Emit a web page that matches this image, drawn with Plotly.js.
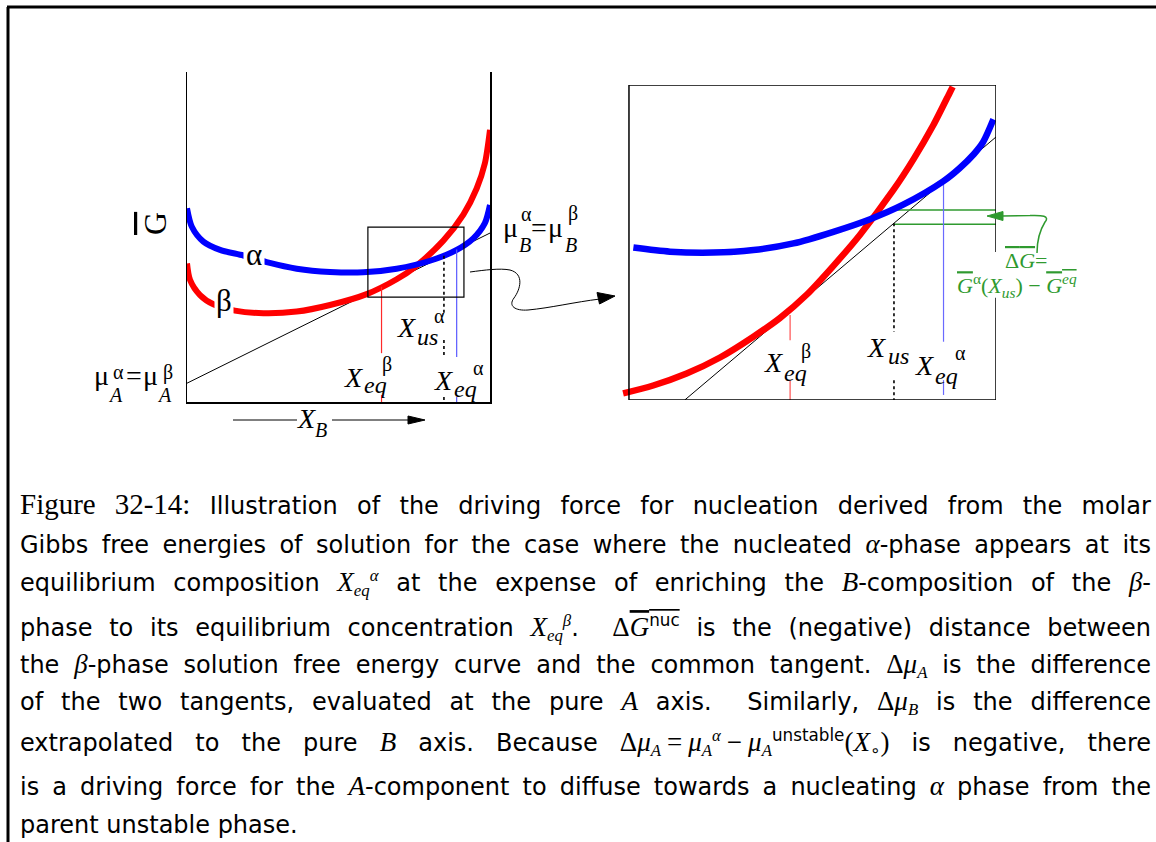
<!DOCTYPE html>
<html><head><meta charset="utf-8">
<script src="https://cdn.plot.ly/plotly-3.0.1.min.js"></script>
<style>html,body{margin:0;padding:0;background:#fff}</style>
</head><body><div id="chart" style="width:1156px;height:842px"></div>
<script>
// ---------- data (schematic free-energy curves) ----------
// left panel: X_B in [0,1], G in arbitrary units [0,1]
const leftAlphaX = [0.0,0.016,0.054,0.109,0.186,0.263,0.362,0.472,0.582,0.692,0.802,0.890,0.945,0.983,1.0];
const leftAlphaG = [0.587,0.531,0.486,0.461,0.444,0.424,0.404,0.394,0.393,0.404,0.428,0.461,0.496,0.542,0.597];
const leftBetaX  = [0.0,0.010,0.043,0.087,0.158,0.252,0.362,0.472,0.593,0.692,0.752,0.846,0.912,0.956,0.983,1.0];
const leftBetaG  = [0.420,0.370,0.324,0.296,0.277,0.269,0.274,0.294,0.327,0.372,0.409,0.489,0.568,0.647,0.723,0.825];
const leftTangentX = [0, 1];
const leftTangentG = [0.057, 0.512];
const leftZoomBoxX = [0.597, 0.914];
const leftZoomBoxG = [0.318, 0.530];
// vertical markers: x position, then segments (top, bottom)
const leftEqBetaX = 0.642,  leftEqBetaSeg  = [[0.349,0.148],[0.021,0]];
const leftEqAlphaX = 0.890, leftEqAlphaSeg = [[0.462,0.136],[0.015,0]];
const leftUsX = 0.848,      leftUsSeg      = [[0.443,0.270],[0.188,0.136],[0.015,0]];

// right (zoomed) panel, own units [0,1]
const rightBetaX  = [-0.016,0.066,0.157,0.248,0.339,0.411,0.484,0.557,0.629,0.720,0.775,0.829,0.875,0.882];
const rightBetaG  = [0.021,0.046,0.084,0.135,0.201,0.260,0.334,0.426,0.524,0.666,0.764,0.872,0.978,0.994];
const rightAlphaX = [0.012,0.112,0.230,0.339,0.448,0.557,0.657,0.747,0.856,0.900,0.940,0.965,0.993];
const rightAlphaG = [0.484,0.471,0.468,0.476,0.497,0.534,0.574,0.620,0.694,0.735,0.781,0.819,0.891];
const rightTangentX = [0.152, 1.0];
const rightTangentG = [0.0, 0.835];
const rightEqBetaX = 0.439,  rightEqBetaSeg  = [[0.270,0.190],[0.063,0]];
const rightEqAlphaX = 0.857, rightEqAlphaSeg = [[0.693,0.185],[0.063,0.016]];
const rightUsX = 0.722,      rightUsSeg      = [[0.561,0.217],[0.063,0]];
const rightGreenX = [0.722, 1.0];
const rightGreenLevels = [0.603, 0.558];

// caption
const M  = s => `<span style="font-family:Liberation Serif;font-style:italic;font-size:27px">${s}</span>`; // main-level math
const Ms = s => `<span style="font-family:Liberation Serif;font-style:italic">${s}</span>`;                // math inside sub/sup
const R  = s => `<span style="font-family:Liberation Serif;font-size:27px">${s}</span>`;
const OL = s => `<span style="text-decoration:overline">${s}</span>`;
const captionLines = [
  '<span style="font-family:Liberation Serif;font-size:29px">Figure 32-14:</span> Illustration of the driving force for nucleation derived from the molar',
  'Gibbs free energies of solution for the case where the nucleated ' + M('α') + '-phase appears at its',
  'equilibrium composition ' + M('X') + '<sub>' + Ms('eq') + '</sub><sup>' + Ms('α') + '</sup> at the expense of enriching the ' + M('B') + '-composition of the ' + M('β') + '-',
  'phase to its equilibrium concentration ' + M('X') + '<sub>' + Ms('eq') + '</sub><sup>' + Ms('β') + '</sup>.  ' + R('Δ') + OL(M('G') + '<sup>nuc</sup>') + ' is the (negative) distance between',
  'the ' + M('β') + '-phase solution free energy curve and the common tangent. ' + R('Δ') + M('μ') + '<sub>' + Ms('A') + '</sub> is the difference',
  'of the two tangents, evaluated at the pure ' + M('A') + ' axis.  Similarly, ' + R('Δ') + M('μ') + '<sub>' + Ms('B') + '</sub> is the difference',
  'extrapolated to the pure ' + M('B') + ' axis. Because ' + R('Δ') + M('μ') + '<sub>' + Ms('A') + '</sub>\u2005' + R('=') + '\u2005' + M('μ') + '<sub>' + Ms('A') + '</sub><sup>' + Ms('α') + '</sup>\u2005' + R('−') + '\u2005' + M('μ') + '<sub>' + Ms('A') + '</sub><sup>unstable</sup>' + R('(') + M('X') + '<sub>∘</sub>' + R(')') + ' is negative, there',
  'is a driving force for the ' + M('A') + '-component to diffuse towards a nucleating ' + M('α') + ' phase from the',
  'parent unstable phase.'
];
const captionY = [504, 544, 583, 627, 665, 702, 742, 786, 825];
const captionJustify = [true,true,true,true,true,true,true,true,false];

// ---------- traces ----------
function segTrace(x, segs, xa, ya, color, width, dash) {
  const xs = [], ys = [];
  segs.forEach(s => { xs.push(x, x, null); ys.push(s[0], s[1], null); });
  return {x: xs, y: ys, xaxis: xa, yaxis: ya, mode: 'lines', line: {color, width, dash: dash || 'solid'}};
}
const traces = [
  {x: leftTangentX, y: leftTangentG, mode:'lines', line:{color:'#000', width:1}, xaxis:'x', yaxis:'y'},
  {x: leftBetaX, y: leftBetaG, mode:'lines', line:{color:'#ff0000', width:6, shape:'spline', smoothing:0.8}, xaxis:'x', yaxis:'y'},
  {x: leftAlphaX, y: leftAlphaG, mode:'lines', line:{color:'#0000ff', width:6, shape:'spline', smoothing:0.8}, xaxis:'x', yaxis:'y'},
  segTrace(leftEqBetaX, leftEqBetaSeg, 'x', 'y', '#ff2a2a', 1.2),
  segTrace(leftEqAlphaX, leftEqAlphaSeg, 'x', 'y', '#5a5aff', 1.2),
  segTrace(leftUsX, leftUsSeg, 'x', 'y', '#000', 1.6, 'dot'),

  {x: rightTangentX, y: rightTangentG, mode:'lines', line:{color:'#000', width:1}, xaxis:'x2', yaxis:'y2'},
  {x: rightGreenX.concat([null]).concat(rightGreenX), y: [rightGreenLevels[0],rightGreenLevels[0],null,rightGreenLevels[1],rightGreenLevels[1]], mode:'lines', line:{color:'#2f9a2f', width:1.5}, xaxis:'x2', yaxis:'y2'},
  segTrace(rightEqBetaX, rightEqBetaSeg, 'x2', 'y2', '#ff5050', 1.2),
  segTrace(rightEqAlphaX, rightEqAlphaSeg, 'x2', 'y2', '#6a6aff', 1.2),
  segTrace(rightUsX, rightUsSeg, 'x2', 'y2', '#000', 1.6, 'dot'),
  {x: rightBetaX, y: rightBetaG, mode:'lines', line:{color:'#ff0000', width:6.5, shape:'spline', smoothing:0.8}, xaxis:'x2', yaxis:'y2'},
  {x: rightAlphaX, y: rightAlphaG, mode:'lines', line:{color:'#0000ff', width:6.5, shape:'spline', smoothing:0.8}, xaxis:'x2', yaxis:'y2'},
  {x: [], y: [], xaxis:'x3', yaxis:'y3', mode:'lines'}
].map(t => Object.assign({hoverinfo:'skip', showlegend:false, type:'scatter'}, t));

// ---------- labels ----------
const SERIF = 'Liberation Serif';
function lab(x, baseline, text, size, opts) {
  return Object.assign({xref:'x3', yref:'y3', x: x, y: baseline - 0.34*size, text: text, showarrow:false,
    xanchor:'center', yanchor:'middle', borderpad:0, font:{family:SERIF, size:size, color:'#000'}}, opts || {});
}
const W = 'rgba(255,255,255,1)';
const GREEN = '#2f9a2f';
const annotations = [
  // left panel
  lab(101.5,385,'μ',28), lab(115,402,'<i>A</i>',20), lab(118.5,379,'α',20), lab(133.5,385,'=',28),
  lab(150,385,'μ',28), lab(164,402,'<i>A</i>',20), lab(167.5,379,'β',20),
  lab(510,237,'μ',28), lab(525,252,'<i>B</i>',20), lab(526,221,'α',20), lab(539,237,'=',28),
  lab(555,237,'μ',28), lab(571,252,'<i>B</i>',20), lab(573,220,'β',20),
  lab(253.5,265,'α',31,{bgcolor:W, borderpad:2}),
  lab(223.5,311,'β',31,{bgcolor:W, borderpad:1}),
  lab(353.5,387,'<i>X</i>',28), lab(375,393,'<i>eq</i>',24), lab(387,371,'β',20),
  lab(406.5,337,'<i>X</i>',28), lab(427,345,'<i>us</i>',24), lab(439,323,'α',20),
  lab(443.5,390,'<i>X</i>',28), lab(465,397,'<i>eq</i>',24), lab(478.5,375,'α',20),
  {xref:'x3', yref:'y3', x:155, y:224, text: OL('G'), textangle:-90, showarrow:false, font:{family:SERIF, size:32, color:'#000'}},
  lab(306.5,428,'<i>X</i>',28), lab(321,437,'<i>B</i>',20),
  // right panel
  lab(773.5,372,'<i>X</i>',28), lab(795,381,'<i>eq</i>',24), lab(806,358,'β',20),
  lab(876.5,357,'<i>X</i>',28), lab(898,364,'<i>us</i>',24),
  lab(924,375,'<i>X</i>',28), lab(946,384,'<i>eq</i>',24), lab(960,360,'α',20),
  lab(1026,268, OL('Δ<i>G</i>') + '=', 22, {font:{family:SERIF, size:22, color:GREEN}}),
  lab(1017,293, OL('<i>G</i>') + '<sup>α</sup>(<i>X</i><sub><i>us</i></sub>) − ' + OL('<i>G</i><sup><i>eq</i></sup>'), 22, {font:{family:SERIF, size:22, color:GREEN}})
];
const captionStart = annotations.length;
captionLines.forEach((t, i) => {
  annotations.push({xref:'x3', yref:'y3', x:18, y:captionY[i], text:t, showarrow:false, xanchor:'left', yanchor:'middle', align:'left',
    font:{family:'DejaVu Sans', size:24, color:'#000'}});
});

// ---------- shapes (frame, boxes, arrows) ----------
const blk = {color:'#000', width:1};
const shapes = [
  {type:'line', xref:'x3', yref:'y3', x0:7, y0:7, x1:1156, y1:7, line:{color:'#000', width:3}},
  {type:'line', xref:'x3', yref:'y3', x0:8, y0:7, x1:8, y1:842, line:{color:'#000', width:3}},
  // left zoom box
  {type:'rect', xref:'x', yref:'y', x0:leftZoomBoxX[0], x1:leftZoomBoxX[1], y0:leftZoomBoxG[0], y1:leftZoomBoxG[1], line:{color:'#000', width:1.2}},
  // right panel box
  {type:'line', xref:'x2', yref:'y2', x0:0, y0:1, x1:1, y1:1, line:{color:'#000', width:1.5}},
  {type:'line', xref:'x2', yref:'y2', x0:0, y0:0, x1:1, y1:0, line:{color:'#000', width:1.5}},
  {type:'line', xref:'x2', yref:'y2', x0:0, y0:0, x1:0, y1:1, line:{color:'#000', width:1.5}},
  {type:'line', xref:'x2', yref:'y2', x0:1, y0:1, x1:1, y1:0.47, line:{color:'#000', width:1.5}},
  {type:'line', xref:'x2', yref:'y2', x0:1, y0:0.325, x1:1, y1:0, line:{color:'#000', width:1.5}},
  // curvy zoom arrow
  {type:'path', xref:'x3', yref:'y3', path:'M470,272 C485,270 500,268 510,270 C525,274 520,290 514,298 C508,306 515,311 528,310 C550,308 575,302 600,299', line:blk},
  {type:'path', xref:'x3', yref:'y3', path:'M615,296 L597,292.5 L599.5,304 Z', fillcolor:'#000', line:{color:'#000', width:1}},
  // X_B arrow
  {type:'line', xref:'x3', yref:'y3', x0:233, y0:420, x1:297, y1:420, line:blk},
  {type:'line', xref:'x3', yref:'y3', x0:332, y0:420, x1:410, y1:420, line:blk},
  {type:'path', xref:'x3', yref:'y3', path:'M425,420 L408,416 L408,424 Z', fillcolor:'#000', line:{color:'#000', width:1}},
  // green arrow
  {type:'path', xref:'x3', yref:'y3', path:'M1037,253 C1037,240 1040,230 1045,222 C1050,216 1042,215 1030,215.5 L1002,216', line:{color:GREEN, width:1.5}},
  {type:'path', xref:'x3', yref:'y3', path:'M987,216 L1003,211.5 L1003,220.5 Z', fillcolor:GREEN, line:{color:GREEN, width:1}}
];

const noAx = {showgrid:false, zeroline:false, showticklabels:false, ticks:'', fixedrange:true};
const layout = {
  width:1156, height:842, margin:{l:0,r:0,t:0,b:0}, paper_bgcolor:'#fff', plot_bgcolor:'rgba(0,0,0,0)',
  showlegend:false,
  xaxis: Object.assign({domain:[187/1156, 490/1156], range:[0,1], showline:true, linecolor:'#000', linewidth:1.5, anchor:'y'}, noAx),
  yaxis: Object.assign({domain:[1-402/842, 1-72/842], range:[0,1], showline:true, mirror:true, linecolor:'#000', linewidth:1.5, anchor:'x'}, noAx),
  xaxis2: Object.assign({domain:[622/1156, 996/1156], range:[-0.019,1], showline:false, anchor:'y2'}, noAx),
  yaxis2: Object.assign({domain:[1-400/842, 1-85/842], range:[0,1], showline:false, anchor:'x2'}, noAx),
  xaxis3: Object.assign({domain:[0,1], range:[0,1156], visible:false, anchor:'y3'}, noAx),
  yaxis3: Object.assign({domain:[0,1], range:[842,0], visible:false, anchor:'x3'}, noAx),
  annotations: annotations, shapes: shapes
};

Plotly.newPlot('chart', traces, layout, {staticPlot:true, displayModeBar:false}).then(gd => {
  const target = 1149 - 18;
  captionLines.forEach((t, i) => {
    if (!captionJustify[i]) return;
    const el = gd.querySelector('.annotation[data-index="' + (captionStart + i) + '"] .annotation-text');
    if (!el) return;
    const n = (el.textContent.match(/ /g) || []).length;
    if (!n) return;
    let ws = 0;
    for (let k = 0; k < 3; k++) {
      const w = el.getBBox().width;
      ws += (target - w) / n;
      el.style.wordSpacing = ws + 'px';
    }
  });
});
</script></body></html>
